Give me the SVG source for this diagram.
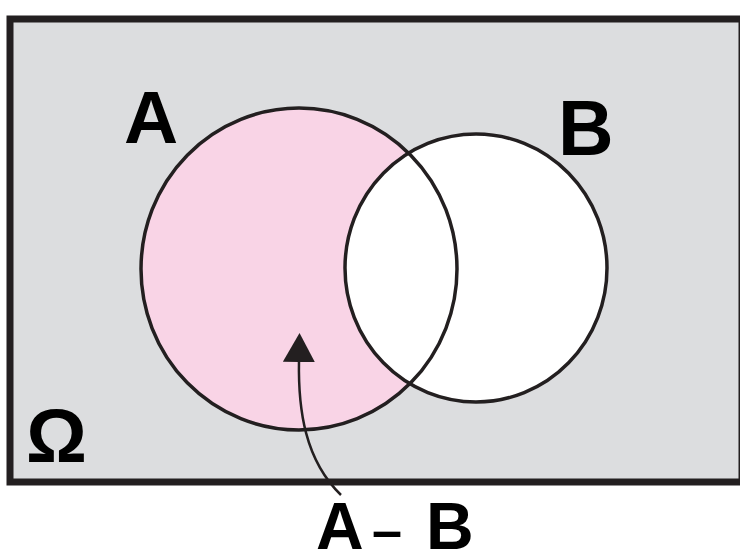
<svg xmlns="http://www.w3.org/2000/svg" width="740" height="557" viewBox="0 0 740 557">
  <defs>
    <style>
      .lbl { font-family: "Liberation Sans", Arial, sans-serif; font-weight: bold; fill: #000; }
      .outline { fill: none; stroke: #231f20; stroke-width: 3.5; }
    </style>
    <marker id="tri" viewBox="0 0 29 32" refX="2" refY="16" markerWidth="29" markerHeight="32" markerUnits="userSpaceOnUse" orient="auto">
      <path d="M0,0 L29,16 L0,32 Z" fill="#231f20"/>
    </marker>
  </defs>
  <rect width="740" height="557" fill="#ffffff"/>
  <g id="omega">
    <rect x="10" y="19" width="732" height="463" fill="#dcdddf" stroke="#231f20" stroke-width="7"/>
    <text class="lbl" x="26" y="462" font-size="76">Ω</text>
  </g>
  <g id="setA">
    <ellipse cx="299" cy="269" rx="158" ry="161" fill="#f9d4e6"/>
    <text class="lbl" x="124" y="143" font-size="75">A</text>
  </g>
  <g id="setB">
    <ellipse cx="476" cy="268" rx="131" ry="134" fill="#ffffff"/>
    <text class="lbl" x="558" y="155" font-size="77">B</text>
  </g>
  <g id="outlines">
    <ellipse class="outline" cx="299" cy="269" rx="158" ry="161"/>
    <ellipse class="outline" cx="476" cy="268" rx="131" ry="134"/>
  </g>
  <g id="difference">
    <text class="lbl" y="549" font-size="66"><tspan x="316">A</tspan><tspan x="372" font-size="54">–</tspan><tspan> </tspan><tspan x="426">B</tspan></text>
  </g>
  <g id="connectors">
    <path d="M341,495 C305,460 298,410 299,360" fill="none" stroke="#231f20" stroke-width="2.5" marker-end="url(#tri)"/>
  </g>
</svg>
